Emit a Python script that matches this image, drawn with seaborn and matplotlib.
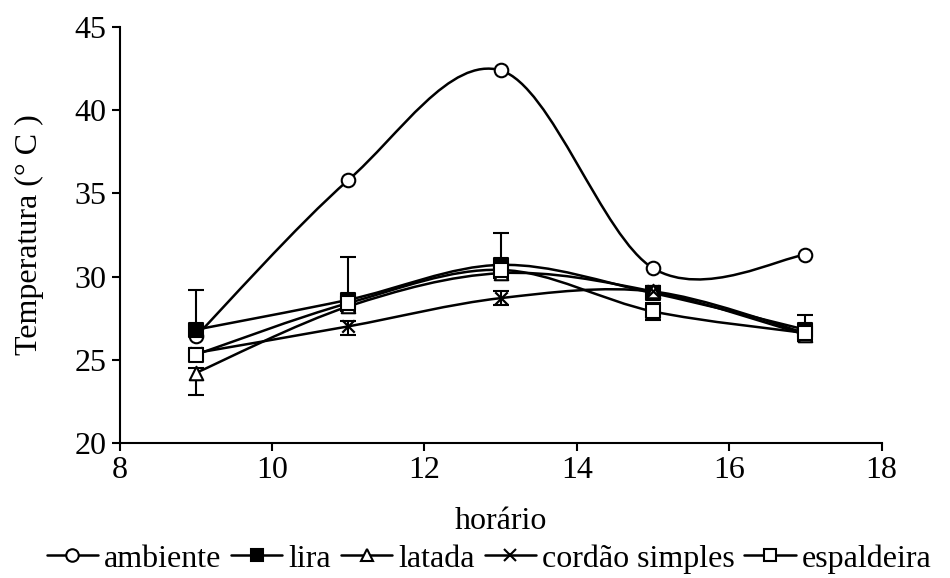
import numpy as np
import pandas as pd
import matplotlib
matplotlib.use("Agg")
import matplotlib.pyplot as plt
from matplotlib.path import Path
from matplotlib.patches import PathPatch
from matplotlib.lines import Line2D
import seaborn as sns

horario = [9, 11, 13, 15, 17]
ambiente = [26.4, 35.8, 42.4, 30.5, 31.3]
lira = [26.8, 28.6, 30.7, 29.0, 26.8]
latada = [24.2, 28.2, 30.2, 29.1, 26.5]
cordao = [25.4, 27.0, 28.7, 29.1, 26.6]
espaldeira = [25.3, 28.4, 30.4, 27.9, 26.6]

# error bars (lower, upper)
lira_err = ([0.3, 0.3, 0.3, 0.3, 0.4], [2.4, 2.6, 1.9, 0.3, 0.9])
latada_err = ([1.3, 0.3, 0.3, 0.3, 0.4], [0.3, 0.3, 0.3, 0.3, 0.3])
cordao_err = ([0.3, 0.5, 0.4, 0.3, 0.3], [0.3, 0.3, 0.4, 0.3, 0.3])
espaldeira_err = ([0.3, 0.3, 0.3, 0.5, 0.5], [0.3, 0.3, 0.3, 0.5, 0.3])

names = ["ambiente", "lira", "latada", "cordão simples", "espaldeira"]
series = [ambiente, lira, latada, cordao, espaldeira]
errs = [None, lira_err, latada_err, cordao_err, espaldeira_err]
markers = ["o", "s", "^", "x", "s"]
faces = ["white", "black", "white", "black", "white"]

sns.set_style("ticks")
plt.rcParams["font.family"] = ["Liberation Serif", "DejaVu Serif"]
plt.rcParams["text.color"] = "black"
plt.rcParams["axes.labelcolor"] = "black"

def smooth_path(xs, ys, t=1/6.0):
    pts = np.column_stack([xs, ys]).astype(float)
    n = len(pts)
    verts = [pts[0]]
    codes = [Path.MOVETO]
    for i in range(n - 1):
        p_prev = pts[max(i - 1, 0)]
        p0, p1 = pts[i], pts[i + 1]
        p_next = pts[min(i + 2, n - 1)]
        c1 = p0 + (p1 - p_prev) * t
        c2 = p1 - (p_next - p0) * t
        verts += [c1, c2, p1]
        codes += [Path.CURVE4] * 3
    return Path(verts, codes)

fig, ax = plt.subplots(figsize=(9.5, 5.78), dpi=100)
fig.subplots_adjust(left=0.126, right=0.928, bottom=0.234, top=0.953)

for name, ys, err in zip(names, series, errs):
    ax.add_patch(PathPatch(smooth_path(horario, ys), fill=False, edgecolor="black",
                           lw=1.8, zorder=2))
    if err is not None:
        ax.errorbar(horario, ys, yerr=np.array(err), fmt="none", ecolor="black",
                    elinewidth=1.5, capsize=6, capthick=1.5, zorder=3)

df = pd.DataFrame({"horario": horario * len(names),
                   "temp": sum(series, []),
                   "serie": np.repeat(names, len(horario))})
for name, m, fc in zip(names, markers, faces):
    sub = df[df["serie"] == name]
    if m == "x":
        sns.scatterplot(data=sub, x="horario", y="temp", marker=m, color="black",
                        s=80, linewidth=1.6, ax=ax, zorder=4, legend=False)
    else:
        sns.scatterplot(data=sub, x="horario", y="temp", marker=m, facecolor=fc,
                        edgecolor="black", s=95, linewidth=1.5, ax=ax, zorder=4,
                        legend=False)

ax.set_xlim(8, 18)
ax.set_ylim(20, 45)
ax.set_xticks([8, 10, 12, 14, 16, 18])
ax.set_yticks([20, 25, 30, 35, 40, 45])
ax.tick_params(labelsize=23, length=6, width=1.5, direction="out", colors="black")
for sp in ["left", "bottom"]:
    ax.spines[sp].set_linewidth(1.5)
    ax.spines[sp].set_color("black")
sns.despine(ax=ax)
ax.set_xlabel("horário", fontsize=23, labelpad=16)
ax.set_ylabel("Temperatura (° C )", fontsize=23, labelpad=22)

handles = [Line2D([], [], color="black", lw=1.8, marker=m, markerfacecolor=fc,
                  markeredgecolor="black", markersize=9, markeredgewidth=1.5)
           for m, fc in zip(markers, faces)]
fig.legend(handles, names, loc="lower center", ncol=5, frameon=False,
           fontsize=23, handlelength=1.6, handletextpad=0.2, columnspacing=0.3,
           borderaxespad=0.1, bbox_to_anchor=(0.515, -0.02))

fig.savefig("out.png", dpi=100)
